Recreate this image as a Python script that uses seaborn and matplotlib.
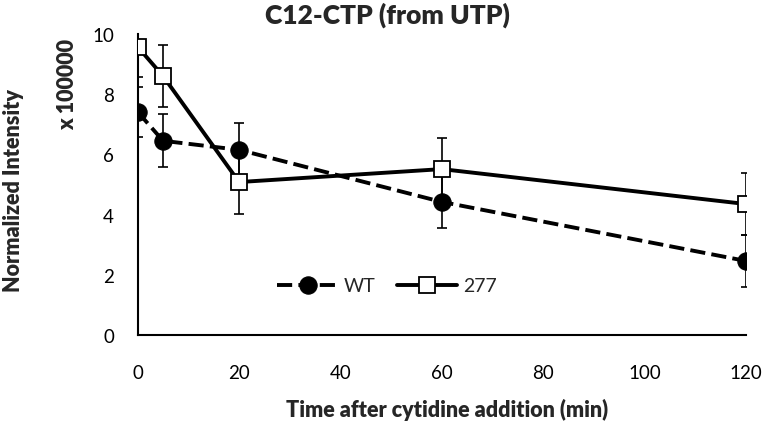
import pandas as pd
import numpy as np
import matplotlib
matplotlib.use("Agg")
import matplotlib.pyplot as plt
import seaborn as sns

# data (intensity in units of 100000)
time_min = [0, 5, 20, 60, 120]
wt_mean = [7.41, 6.45, 6.15, 4.42, 2.46]
wt_err = [0.83, 0.88, 0.89, 0.87, 0.87]
m277_mean = [9.57, 8.60, 5.08, 5.51, 4.35]
m277_err = [1.00, 1.04, 1.06, 1.03, 1.03]
x_ticks = [0, 20, 40, 60, 80, 100, 120]
y_ticks = [0, 2, 4, 6, 8, 10]

sns.set_theme(style="white")
plt.rcParams['font.family'] = ['Lato', 'DejaVu Sans']

df = pd.DataFrame({
    "Time": time_min * 2,
    "Intensity": wt_mean + m277_mean,
    "Err": wt_err + m277_err,
    "Strain": ["WT"] * len(time_min) + ["277"] * len(time_min),
})

fig = plt.figure(figsize=(7.65, 4.31), dpi=100)
ax = fig.add_axes([0.180, 0.2204, 0.795, 0.6986])

styles = {
    "WT": dict(marker="o", mfc="black", mec="black", ms=12.5, dashes=(3.9, 1.6)),
    "277": dict(marker="s", mfc="white", mec="black", ms=11.5, mew=1.3),
}

for strain, sty in styles.items():
    sub = df[df["Strain"] == strain]
    ax.errorbar(sub["Time"], sub["Intensity"], yerr=sub["Err"], fmt="none",
                ecolor="black", elinewidth=1.2, capsize=3.6, capthick=1.2, zorder=2)
    sty = dict(sty)
    dashes = sty.pop("dashes", None)
    sns.lineplot(data=sub, x="Time", y="Intensity", ax=ax, color="black",
                 lw=2.8, label=strain, zorder=3, **sty)
    if dashes is not None:
        ax.lines[-1].set_dashes(dashes)

ax.set_xlim(0, 120)
ax.set_ylim(0, 10)
ax.set_xticks(x_ticks)
ax.set_yticks(y_ticks)
ax.tick_params(axis="both", labelsize=13.5, colors="black", length=5, width=1.2)
ax.tick_params(axis="x", direction="out", pad=16)
ax.tick_params(axis="y", direction="inout", length=10, pad=12)
for side in ["top", "right"]:
    ax.spines[side].set_visible(False)
for side in ["left", "bottom"]:
    ax.spines[side].set_color("black")
    ax.spines[side].set_linewidth(1.5)
ax.set_xlabel("")
ax.set_ylabel("")

leg = ax.legend(loc="center", bbox_to_anchor=(0.41, 0.163), ncol=2, frameon=False,
                fontsize=14, handlelength=3.1, columnspacing=1.1, handletextpad=0.3)

fig.text(0.506, 0.965, "C12-CTP (from UTP)", ha="center", va="center",
         fontsize=19, fontweight="heavy")
fig.text(0.585, 0.049, "Time after cytidine addition (min)", ha="center", va="center",
         fontsize=15.5, fontweight="heavy")
fig.text(0.018, 0.559, "Normalized Intensity", ha="center", va="center",
         rotation=90, fontsize=15.5, fontweight="heavy")
fig.text(0.089, 0.803, "x 100000", ha="center", va="center",
         rotation=90, fontsize=15.5, fontweight="heavy")

fig.savefig("out.png", dpi=100)
